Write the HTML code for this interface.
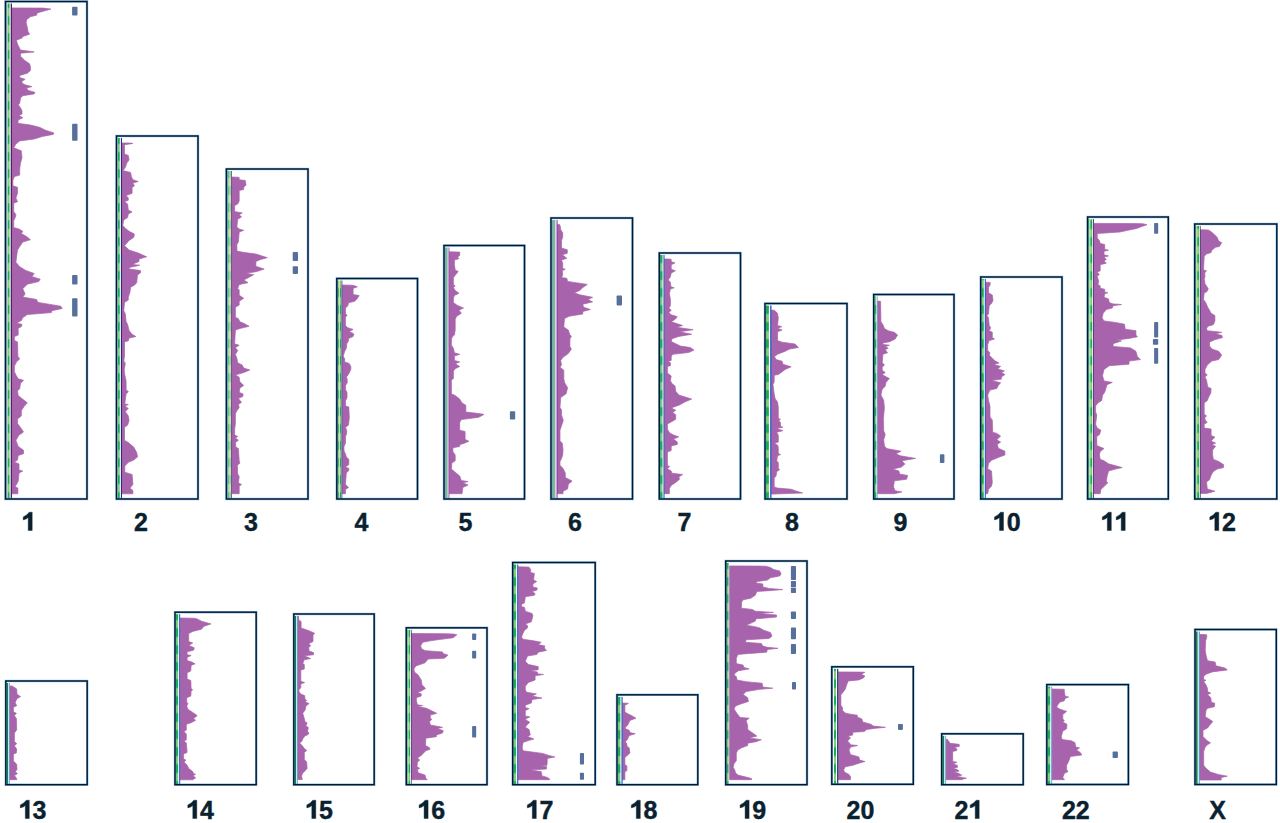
<!DOCTYPE html>
<html><head><meta charset="utf-8"><title>Chromosome histogram</title>
<style>
html,body{margin:0;padding:0;background:#fff;}
body{width:1280px;height:823px;overflow:hidden;font-family:"Liberation Sans",sans-serif;}
svg{display:block}
.lb{font-family:"Liberation Sans",sans-serif;font-weight:bold;font-size:25px;fill:#0a2230;stroke:#0a2230;stroke-width:0.4px;text-anchor:start}
</style></head>
<body>
<svg width="1280" height="823" viewBox="0 0 1280 823">
<defs><linearGradient id="gg" gradientUnits="userSpaceOnUse" x1="0" y1="0" x2="0" y2="17" spreadMethod="repeat"><stop offset="0" stop-color="#16ae54"/><stop offset="0.42" stop-color="#16ae54"/><stop offset="0.52" stop-color="#84ce72"/><stop offset="0.9" stop-color="#84ce72"/><stop offset="1" stop-color="#16ae54"/></linearGradient></defs>
<rect width="1280" height="823" fill="#ffffff"/>
<g id="c1">
<path d="M12 7.9L12 7.9L43.1 8.1L50.9 9.1L45.6 10.6L37.2 12.9L36.5 15.2L30.4 16.7L26.6 19.7L26.1 22.8L27.3 27.3L28.1 31.9L29.6 34.2L22.8 36.5L22 38L16.4 40.2L17.5 44L19 47.1L20.5 50.1L34.2 51.9L20.5 53.2L20.5 56.2L22.8 58.5L25.1 60.8L29.6 63.8L30.4 66.8L30.4 70.6L27.3 73.2L19.7 75.5L19.7 77.5L25.1 79.3L22 81.3L22 83.2L25.8 85.1L31.9 86.6L26.6 88.1L28.1 90.4L34.9 92.3L34.2 93.9L22.8 95.7L20.5 98L19.7 103.3L18.2 104.8L20.5 107.8L22 110.9L22 113.9L19 115.4L22.8 117.7L18.2 120L17.9 123.3L30.4 125L39.5 127.3L45.6 130.3L53.9 132.9L53.2 134.4L42.5 136.4L34.2 139L19.7 140.9L15.9 144L13.7 147.8L21.3 150.8L22 157.7L20.5 163L19.7 169L19.7 175.1L14.4 176.6L12.9 180.4L12.9 185.8L17.5 187.3L17.5 193.3L15.9 197.9L17.5 201.7L13.7 203.2L13.7 211.6L15.9 214.6L15.2 217.6L13.7 220.7L13.7 227.5L19 229L22.8 231.3L21.3 233.6L26.6 236.6L30.4 239.7L22.8 242L19.7 246.5L17.5 250L16.7 256.1L15.9 262.2L19.7 266.7L25.8 270.5L34.2 273.5L31.9 276.6L40.2 279.2L38.7 281.6L27.3 284.2L22.8 288.7L25.1 294L22.8 297.1L36.5 299.4L38 302.4L47.1 303.9L60.8 306.2L62.3 308.5L51.6 310.8L51.6 312.6L27.3 314.6L22.8 317.6L21.3 320.6L16.7 322.9L22 324.4L21.3 326.7L18.2 328.2L18.2 335.1L14.4 336.6L14.4 340.4L17.5 341.9L17.9 356.3L19.7 359.1L16.7 361.6L14.4 366.2L14.4 371.5L15.9 375L18.2 378.8L23.5 380.3L20.5 383.4L19.7 388.7L17.5 390.9L18.2 395.5L22.8 399.3L27.3 402.8L24.3 406.1L21.3 410.7L21.3 416L17.5 419L17.5 423.6L20.5 427.4L23.5 432L19 435L15.9 440.3L18.2 446.4L23.5 450.2L23.5 453.7L18.2 455.5L17.5 460.1L14.4 461.9L19 463.9L19 469.9L22.8 471.1L19 473L18.2 481.3L15.2 486.6L17.9 488.2L17.9 493.8L12 493.8Z" fill="#a763ab" stroke="#a763ab" stroke-width="0.7" stroke-linejoin="round"/>
<rect x="6.2" y="3.5" width="1.6" height="495.1" fill="#b5d8bd"/>
<rect x="7.8" y="3.5" width="1.9" height="495.1" fill="url(#gg)"/>
<rect x="9.7" y="3.5" width="1.2" height="495.1" fill="#dcebdc"/>
<rect x="10.8" y="3.5" width="1.2" height="495.1" fill="#5a1a6e"/>
<rect x="72.1" y="6.8" width="5.4" height="8.8" rx="0.8" fill="#566f9b"/>
<rect x="72.1" y="123.8" width="5.4" height="17" rx="0.8" fill="#566f9b"/>
<rect x="72.1" y="275.1" width="5.4" height="9.5" rx="0.8" fill="#566f9b"/>
<rect x="72.1" y="298.3" width="5.4" height="18.2" rx="0.8" fill="#566f9b"/>
<rect x="5.5" y="1.5" width="81.5" height="497.5" fill="none" stroke="#3d8fd8" stroke-opacity="0.65" stroke-width="2.4"/>
<rect x="5.5" y="1.5" width="81.5" height="497.5" fill="none" stroke="#04192a" stroke-width="1.4"/>
<path class="lb" d="M32.2 530.5h-4v-12.9q-1.7 1.7-5 2.3v-3q3.9-1.6 6-4.7h3z"/>
</g>
<g id="c2">
<path d="M122 142.9L122.3 142.9L130.7 143.1L132.9 143.5L124.5 144.7L124.5 153.9L128.3 155.4L129.1 159.9L126.8 163L125.3 167.5L123 170.6L130.6 172.4L131.4 176.6L132.9 179.7L138.2 181.5L132.9 183L134.4 185.8L132.1 187.6L132.1 193.3L126.1 195.6L128.3 197.9L128.3 200.2L124.5 201.7L127.6 204L128.3 210.1L132.1 211.9L128.3 213.9L127.6 217.6L123.8 219.9L122.7 225.2L125.3 228.3L129.1 231.3L134.4 234.1L133.7 237.4L129.1 240.4L124.5 245.7L129.1 250L138.2 253L146.6 256.8L139 259.1L139 261.4L132.1 264.4L139.7 265.2L129.1 267.5L129.1 269L140.5 270.5L140.5 272.8L137.5 275.1L136.7 282.7L134.4 285.2L130.6 287.2L129.9 292.5L128.3 297.1L128.3 300.1L124.5 302.4L123.8 310.8L125.3 313.8L126.1 321.4L127.6 324.4L129.1 330.5L132.1 334.3L135.9 336.6L129.1 338.1L128.3 340.8L124.5 341.9L124.5 356.3L123.8 360.9L125.3 363.2L124.2 370L124.8 375L126.1 381.1L126.1 389.4L128.3 391.7L126.1 394L124.8 403.9L128.3 404.6L124.8 406.1L128.3 408.4L125.3 411.5L128.3 416L129.1 420.6L127.6 425.1L124.5 427.4L124.5 440.3L128.3 442.6L133.7 447.1L136.7 452.5L137.5 457L133.7 460.1L128.3 462.3L124.8 466.1L124.8 472.2L132.1 474.5L132.9 484.4L129.9 488.2L132.9 490.4L132.9 493.8L122 493.8Z" fill="#a763ab" stroke="#a763ab" stroke-width="0.7" stroke-linejoin="round"/>
<rect x="117.2" y="138" width="0.8" height="360.6" fill="#e4f2f8"/>
<rect x="118" y="138" width="1.8" height="360.6" fill="url(#gg)"/>
<rect x="120.9" y="138" width="1.1" height="360.6" fill="#2a2a80"/>
<rect x="116.5" y="136" width="81.5" height="363" fill="none" stroke="#3d8fd8" stroke-opacity="0.65" stroke-width="2.4"/>
<rect x="116.5" y="136" width="81.5" height="363" fill="none" stroke="#04192a" stroke-width="1.4"/>
<text class="lb" x="134.1" y="530.5">2</text>
</g>
<g id="c3">
<path d="M232 177L232.7 177L237.8 177.2L239.2 177.5L239.2 179.7L245.3 180.5L246 185.1L243.7 187.3L243.7 189.6L239.2 190.4L239.2 201L237.7 204L234.6 205.6L234.6 211.6L242.2 212.9L239.2 214.7L241.5 217L237.7 219.2L236.9 226.8L239.2 229.1L243.7 230.3L239.2 232.1L238.4 242L236.9 244.3L236.9 251.1L243 252.3L256.7 254.2L262 256L267.3 257.7L260.5 259.5L255.9 261.5L255.9 266.3L264.2 269.1L256.7 271.6L246 273.2L253.6 274.7L248.3 277.7L243.7 280L248 282.7L239.2 284.6L237.7 288.4L239.2 289.9L239.2 295.2L243.7 298.2L239.2 301.3L239.2 305.1L235.4 307.3L235.4 317.2L238.4 318.7L239.9 321.8L243.7 323.3L249.1 326.3L240.7 328.3L235.4 330.1L234.6 343.8L239.2 345.3L235.4 347.6L237.7 350.6L235.4 354.4L236.9 358.2L237.7 362.8L242.2 365.1L243.7 368.1L249.8 369.9L244.5 372.3L235.4 374.9L239.2 377.2L239.2 378L239.9 381.8L243.7 385.6L239.9 387.9L239.2 392.4L243 393.9L243 396.2L238.4 398.5L241.5 402.3L238.4 404.6L239.2 407.6L236.9 410.7L235.4 413.7L235.4 423.6L234.6 429.6L234.6 435L237.7 436.5L235.4 438L238.4 440.3L235.4 442.6L235.8 447.1L238.4 448.6L239.2 460.8L239.9 463.1L237.4 465.3L237.7 473.7L239.2 476.7L238.4 482.8L241.5 484.6L239.2 486.1L239.2 493.7L232 493.7Z" fill="#a763ab" stroke="#a763ab" stroke-width="0.7" stroke-linejoin="round"/>
<rect x="227.1" y="171" width="0.7" height="327.6" fill="#7cc8e8"/>
<rect x="227.8" y="171" width="1" height="327.6" fill="url(#gg)"/>
<rect x="228.8" y="171" width="0.7" height="327.6" fill="#c8e8b0"/>
<rect x="229.6" y="171" width="0.9" height="327.6" fill="url(#gg)"/>
<rect x="231.3" y="171" width="0.7" height="327.6" fill="#5a1a6e"/>
<rect x="292.7" y="251.9" width="5.3" height="9.1" rx="0.8" fill="#566f9b"/>
<rect x="292.7" y="266.3" width="5.3" height="7.6" rx="0.8" fill="#566f9b"/>
<rect x="226.4" y="169" width="81.6" height="330" fill="none" stroke="#3d8fd8" stroke-opacity="0.65" stroke-width="2.4"/>
<rect x="226.4" y="169" width="81.6" height="330" fill="none" stroke="#04192a" stroke-width="1.4"/>
<text class="lb" x="244.1" y="530.5">3</text>
</g>
<g id="c4">
<path d="M342.3 285L342.5 285L350.9 285.2L353.1 285.3L357.4 286.8L353.1 288.4L353.1 294.4L359.2 295.6L356.9 299L354.6 301.3L348.5 302.8L347.8 305.8L345.5 308.1L345.5 313.4L347 315.2L345.5 317.2L345.5 325.6L347.8 327.8L353.1 329.4L349.3 331.6L353.9 333.9L353.1 336.5L348.5 338.5L348.5 340.8L346.7 343.8L346.3 348.3L344.7 351.4L343.2 355.9L344.7 359L344.7 362L349.3 363.5L350.8 366.6L350.8 369.6L348.5 374.2L346.3 377.2L347 378L347.3 382.6L345.5 385.6L345.5 389.4L347 392.4L347 397.7L345.5 400.8L345.5 406.1L348.8 406.9L349.3 417.5L348.5 425.1L345.5 427.4L346.7 430.4L346.7 433.4L345.5 436.5L345.5 443.3L344 446.3L344 450.9L345.5 453.9L346.3 457L348.8 459.3L348.8 464.6L345.5 466.9L348.8 468.4L348.8 470.6L346.3 472.9L345.5 484.3L346.7 485.8L348.5 487.4L345.5 489.6L345.5 493.7L342.3 493.7Z" fill="#a763ab" stroke="#a763ab" stroke-width="0.7" stroke-linejoin="round"/>
<rect x="337.5" y="280.5" width="0.6" height="218.1" fill="#30a8e0"/>
<rect x="338.1" y="280.5" width="0.9" height="218.1" fill="url(#gg)"/>
<rect x="338.9" y="280.5" width="1" height="218.1" fill="#c8e8b0"/>
<rect x="339.9" y="280.5" width="1.1" height="218.1" fill="url(#gg)"/>
<rect x="341.5" y="280.5" width="0.8" height="218.1" fill="#2a2a80"/>
<rect x="336.8" y="278.5" width="80.7" height="220.5" fill="none" stroke="#3d8fd8" stroke-opacity="0.65" stroke-width="2.4"/>
<rect x="336.8" y="278.5" width="80.7" height="220.5" fill="none" stroke="#04192a" stroke-width="1.4"/>
<text class="lb" x="354.6" y="530.5">4</text>
</g>
<g id="c5">
<path d="M449.3 251.8L449.4 251.8L457.7 252L459.7 252.1L459.7 255.6L457.5 257.1L459 258.6L454.4 260.1L454.4 264.7L455.2 270L458.2 271.5L455.2 275.3L453.4 277.6L453.4 284.4L455.2 285.9L453.4 287.5L455.2 290.5L459 293.2L454.4 295.4L453.4 298.1L453.4 302.6L456.7 304.9L459.7 306.4L463.5 308L459 310.2L461.3 313.3L456.7 316.3L455.2 319.4L455.2 330L454.4 335L452.9 336.1L451.4 339.1L451.4 345.2L453.4 348.2L454.4 352.8L459.7 354.3L454.4 356.1L454.4 360.4L459.7 361.9L455.2 363.7L459.7 366.5L455.2 368.7L453.4 371L453.4 378.6L451.4 380.1L451.4 393.8L455.2 395.6L459.7 399.1L462 402.9L465.8 405.2L465.8 412L478.7 413.5L484 414.4L478.7 417.3L461.3 419.6L459.7 422.6L459.7 430.2L465.1 431.5L465.1 439.4L468.9 441.2L464.3 443.2L459.7 444.7L459.7 446.6L452.9 447.7L452.9 451.5L455.2 455L455.2 455.5L455.2 460.8L451.8 463.1L451.4 469.1L455.2 472.2L459.7 476L461.3 480.5L468.1 481.6L462.8 482.8L468.1 485.1L462.8 487.4L462 493.7L449.3 493.7Z" fill="#a763ab" stroke="#a763ab" stroke-width="0.7" stroke-linejoin="round"/>
<rect x="444.7" y="247.5" width="3.1" height="251.1" fill="#80b2a4"/>
<rect x="447.8" y="247.5" width="0.7" height="251.1" fill="#f4f8f4"/>
<rect x="448.6" y="247.5" width="0.7" height="251.1" fill="#7a1a8c"/>
<rect x="509.9" y="411.3" width="5.3" height="8.3" rx="0.8" fill="#566f9b"/>
<rect x="444" y="245.5" width="80.5" height="253.5" fill="none" stroke="#3d8fd8" stroke-opacity="0.65" stroke-width="2.4"/>
<rect x="444" y="245.5" width="80.5" height="253.5" fill="none" stroke="#04192a" stroke-width="1.4"/>
<text class="lb" x="458.6" y="530.5">5</text>
</g>
<g id="c6">
<path d="M557.5 224.4L557.7 224.4L559.5 224.6L560 225.2L560.7 229.7L562.7 232.8L562.7 237.3L561.5 240.4L561.5 248L567.3 249.8L567.3 253.3L562.3 254.8L566.8 258.3L561.5 260.1L562.7 263.2L562.7 268.5L565.3 269.2L562.3 270.8L562.7 275.3L561.5 277.6L566.8 278.3L567.6 281.4L587.3 284.4L582.8 287.5L579.7 290.5L574.4 292.8L579.7 294.8L592.6 297.3L588.1 299.6L592.6 301.9L582.8 304.2L583.5 307.2L590.4 309.5L582.8 311.5L582.8 314L569.1 316.3L564.5 318.6L563.8 327L568.3 330L569.9 335L571.4 336.1L569.9 339.1L569.9 346.7L571.4 349L568.3 353.5L563 357.3L560.7 360.4L561.5 364.9L560 367.2L563.8 370.2L563.8 378.6L564.5 382.4L567.6 387.7L566.1 393.8L560.7 397.6L560 407.5L561.5 409.7L561.5 415.1L563.3 420.4L561.5 425.7L560 430.2L560 440.9L562.3 443.2L563 450L562.7 455L561.5 458.5L560 461.5L560 465.3L563 468.4L565.3 472.9L565.3 477.5L572.1 481L568.3 484.3L567.6 488.9L563 491.2L563 493.7L557.5 493.7Z" fill="#a763ab" stroke="#a763ab" stroke-width="0.7" stroke-linejoin="round"/>
<rect x="551.7" y="220" width="3.9" height="278.6" fill="#80b2a4"/>
<rect x="555.6" y="220" width="0.9" height="278.6" fill="#f4f8f4"/>
<rect x="556.6" y="220" width="0.9" height="278.6" fill="#7a1a8c"/>
<rect x="616.6" y="295.5" width="5.4" height="9.9" rx="0.8" fill="#566f9b"/>
<rect x="551" y="218" width="81.5" height="281" fill="none" stroke="#3d8fd8" stroke-opacity="0.65" stroke-width="2.4"/>
<rect x="551" y="218" width="81.5" height="281" fill="none" stroke="#04192a" stroke-width="1.4"/>
<text class="lb" x="567.9" y="530.5">6</text>
</g>
<g id="c7">
<path d="M664.5 258.9L664.7 258.9L669.9 259.1L671.2 259.4L671.2 261.7L675 262.9L671.2 264.7L671.2 269.3L675.4 270.8L671.2 273.1L670.4 276.9L668.2 279.9L670.4 282.2L670.9 286.7L674.2 287.8L670.4 289L669.4 293.6L670.4 299.6L670.4 305.7L668.9 308L671.2 310.3L668.9 312.6L671.2 314.8L677.3 316.7L675 319.4L671.2 321.7L675.7 323.2L682.6 325.5L676.5 327.3L693.2 329.7L679.5 331.8L691.7 334.3L678.8 336.4L671.9 338.8L671.2 341.4L675.7 343.7L680.3 346L690.2 347.5L694 350.1L688.7 352.5L672.7 354.3L671.2 356.6L671.2 360.4L668.2 361.2L670.4 362.7L670.4 365.7L667.4 366.5L667.4 373L671.2 376L670.4 380.6L671.9 383.6L675 385.9L675.7 391.2L678.8 395L691.7 399.1L684.9 401.9L679.5 404.9L671.2 407.9L675.7 410.2L672.7 412.5L675.7 414.8L675.7 419.3L671.2 421.9L667.4 423.9L667.4 429.2L669.7 433L674.2 435.3L678.8 436.8L673.5 439.1L677.3 442.1L677.3 444.4L671.2 445.9L671.2 450.5L667.4 452L667.4 465.6L669.7 466.4L667.4 468.7L671.2 471L671.9 473.2L682.6 474.5L678.8 477L679.5 479.3L675.7 482.4L671.2 485.4L669.4 488.4L669.4 493.7L664.5 493.7Z" fill="#a763ab" stroke="#a763ab" stroke-width="0.7" stroke-linejoin="round"/>
<rect x="660" y="255" width="2.5" height="243.6" fill="url(#gg)"/>
<rect x="663.5" y="255" width="1" height="243.6" fill="#1c50c0"/>
<rect x="659.3" y="253" width="81.2" height="246" fill="none" stroke="#3d8fd8" stroke-opacity="0.65" stroke-width="2.4"/>
<rect x="659.3" y="253" width="81.2" height="246" fill="none" stroke="#04192a" stroke-width="1.4"/>
<text class="lb" x="677.5" y="530.5">7</text>
</g>
<g id="c8">
<path d="M771.5 310L771.7 310L773.9 310.2L774.5 310.3L777.5 313.3L778.3 317.9L777.5 325.5L781.8 326.7L777.5 328.2L782.1 330L777.5 331.8L777.5 340.6L782.1 342.2L795 344L798.5 347.5L789.7 349L785.1 351.3L777.5 354.3L774.5 356.6L776 359.6L782.1 361.2L782.8 364.2L791.2 366.8L785.1 369.5L780.5 373L778.3 374.5L774.2 375.3L774.2 382.1L773 384.4L774.2 394.3L775.2 398.8L777.5 401.9L778.3 407.2L778.3 418.6L780.5 419.3L778.7 420.8L780.5 422.4L780.5 426.2L782.8 427.2L776.7 428.4L782.8 430.7L776.7 432.2L778.3 435.3L778.3 442.1L774.5 443.2L777.5 445.1L778.3 447.4L778.3 453.5L780.5 454.6L777.5 455.8L776.7 461.1L778.3 462.6L778.3 468.7L779.8 469.4L776.7 471.7L776 476.3L774.2 477.8L774.2 486.9L777.5 488.1L791.2 489.2L795 490.7L802.6 493L773 494.1L771.5 494.1Z" fill="#a763ab" stroke="#a763ab" stroke-width="0.7" stroke-linejoin="round"/>
<rect x="765.7" y="305.5" width="3.2" height="193.1" fill="url(#gg)"/>
<rect x="770.2" y="305.5" width="1.3" height="193.1" fill="#1c50c0"/>
<rect x="765" y="303.5" width="82" height="195.5" fill="none" stroke="#3d8fd8" stroke-opacity="0.65" stroke-width="2.4"/>
<rect x="765" y="303.5" width="82" height="195.5" fill="none" stroke="#04192a" stroke-width="1.4"/>
<text class="lb" x="785" y="530.5">8</text>
</g>
<g id="c9">
<path d="M877.8 301.1L877.9 301.1L880.1 301.3L880.6 301.4L880.9 321.6L882.9 324.7L884.4 328.5L888.2 330.8L894.3 332.3L897.6 335L895.1 339.1L889.7 341.7L882.9 342.9L882.9 344.4L889.4 345.2L885.2 346.7L888.2 348.2L885.2 349.7L887.5 352.8L882.9 354.3L882.2 362.6L884.4 364.9L882.2 367.2L882.2 370.2L885.2 372.5L882.2 374.8L885.2 376.3L889.4 378.6L885.9 382.4L885.2 386.2L882.2 389.2L880.9 395L883.7 400.3L884.4 407.9L883.4 418.6L883.7 430.7L885.2 434.5L883.7 439.8L884.4 445.9L886.7 448.6L901.1 451.2L895.8 453.8L900.4 455.8L915.6 458.4L901.9 460.8L904.9 464.1L901.1 467.2L892.8 469L898.9 471L899.6 474L907.7 475.5L906.5 479.3L894.3 480.8L893.5 486.9L895.1 490.7L901.9 491.9L894.3 493.7L877.8 493.7Z" fill="#a763ab" stroke="#a763ab" stroke-width="0.7" stroke-linejoin="round"/>
<rect x="874.4" y="296.5" width="2" height="202.1" fill="url(#gg)"/>
<rect x="877.3" y="296.5" width="0.5" height="202.1" fill="#3a8ad8"/>
<rect x="939.9" y="454.3" width="4.5" height="8.8" rx="0.8" fill="#566f9b"/>
<rect x="873.7" y="294.5" width="80.3" height="204.5" fill="none" stroke="#3d8fd8" stroke-opacity="0.65" stroke-width="2.4"/>
<rect x="873.7" y="294.5" width="80.3" height="204.5" fill="none" stroke="#04192a" stroke-width="1.4"/>
<text class="lb" x="893.5" y="530.5">9</text>
</g>
<g id="c10">
<path d="M985.8 282.2L985.9 282.2L989.4 282.4L990.3 282.6L990 285.2L988.5 287.5L988.5 292.8L992.3 295.1L993 300.4L991.5 303.4L989.2 305.7L988.5 314L987 315.6L988.5 317.8L989.2 325.4L990.7 327.7L989.2 330.8L992.3 332.3L992.3 337.6L994.5 339.1L989.2 340.6L987.7 344.4L987.7 350.5L990 352.8L989.2 355.1L993 358.9L995.3 361.1L999.1 363L993.8 364.5L1000.6 366.4L997.6 368.7L1004.4 371L1001.4 372.5L1004.9 374.5L1001.4 377.1L1001.4 379.1L991.5 380.6L1000.6 382.7L998.3 385.4L996.8 388.5L990 390L987.7 395L988.5 400.3L990 406.4L990 417L992.3 420.1L992.7 432.2L996.8 433.4L1000.6 436L996.8 439.8L1000.6 442.1L997.3 444.4L998.3 448.2L1004.9 451.2L1004.9 455L998.8 457.3L991.5 460.3L988.5 463.4L987.7 468.7L991.5 471L992.3 482.4L991.5 486.2L988.5 489.2L987.7 493.7L985.8 493.7Z" fill="#a763ab" stroke="#a763ab" stroke-width="0.7" stroke-linejoin="round"/>
<rect x="981.4" y="279" width="2.4" height="219.6" fill="url(#gg)"/>
<rect x="984.8" y="279" width="1" height="219.6" fill="#1c50c0"/>
<rect x="980.7" y="277" width="81.3" height="222" fill="none" stroke="#3d8fd8" stroke-opacity="0.65" stroke-width="2.4"/>
<rect x="980.7" y="277" width="81.3" height="222" fill="none" stroke="#04192a" stroke-width="1.4"/>
<path class="lb" d="M1003.5 530.5h-4v-12.9q-1.7 1.7-5 2.3v-3q3.9-1.6 6-4.7h3z"/>
<text class="lb" x="1006.7" y="530.5">0</text>
</g>
<g id="c11">
<path d="M1094 223.4L1094.1 223.4L1133 223.6L1142.7 223.7L1147 224.7L1141.2 226.7L1136.6 228.5L1126.8 230.5L1119.9 232L1097.2 233.5L1097.2 238.1L1099.4 240.4L1100.2 243.4L1104.7 244.6L1104.7 249.2L1108.5 250.2L1104 251.3L1104 254.8L1108.5 255.9L1104 257.1L1106.3 259.4L1104 260.9L1106.3 263.2L1100.2 264.7L1100.2 270.8L1097.2 272.3L1099.4 274.6L1097.2 276.1L1098.7 281.4L1097.9 284.4L1100.2 285.9L1100.2 288.2L1104.7 289.3L1104.7 292L1107.8 292.8L1104.7 293.8L1104 297.3L1108.5 298.9L1109.3 302.6L1113.1 303.9L1121.5 304.5L1113.1 305.7L1112.3 308L1106.3 309.5L1103.2 313.3L1102 317.8L1104 320.9L1115.4 322.4L1124.5 324.2L1125.2 329.2L1135.9 330.7L1135.9 335L1137.4 336.8L1129 338.4L1116.9 339.9L1121.5 340.9L1113.1 343.7L1113.1 346.4L1130.6 347.9L1135.9 351.3L1137.4 356.6L1140.4 359.6L1129 361.1L1129 364.2L1109.3 365.7L1104 369.5L1102.5 375.6L1104 380.9L1112.3 382.4L1107 384.7L1104.7 392.3L1102.5 395.3L1101.7 400.6L1097.9 402.9L1095.6 405.9L1095.6 412L1096.8 415.1L1095.6 424.2L1097.2 428L1100.9 430.2L1099.4 434.8L1096.8 436.3L1096.8 445.4L1100.2 447L1104 448.5L1100.2 451.5L1099.4 455L1100.2 459.3L1104 460.8L1108.5 463.8L1122.2 467.6L1115.4 469.1L1108.5 471L1107 476.7L1106.3 481.3L1107.8 482.8L1104.7 485.8L1100.9 489.6L1100.2 493.7L1094 493.7Z" fill="#a763ab" stroke="#a763ab" stroke-width="0.7" stroke-linejoin="round"/>
<rect x="1088.3" y="219" width="0.9" height="279.6" fill="url(#gg)"/>
<rect x="1089.2" y="219" width="1.1" height="279.6" fill="#a8dc90"/>
<rect x="1090.3" y="219" width="2.1" height="279.6" fill="url(#gg)"/>
<rect x="1092.4" y="219" width="0.8" height="279.6" fill="#e8f0e8"/>
<rect x="1093.2" y="219" width="0.8" height="279.6" fill="#3a1a6e"/>
<rect x="1154.1" y="222.9" width="4.1" height="10.9" rx="0.8" fill="#566f9b"/>
<rect x="1154.1" y="322.1" width="4.1" height="15.5" rx="0.8" fill="#566f9b"/>
<rect x="1152.9" y="339.1" width="5.3" height="5.6" rx="0.8" fill="#566f9b"/>
<rect x="1154.1" y="347.9" width="4.1" height="15.8" rx="0.8" fill="#566f9b"/>
<rect x="1087.6" y="217" width="80.7" height="282" fill="none" stroke="#3d8fd8" stroke-opacity="0.65" stroke-width="2.4"/>
<rect x="1087.6" y="217" width="80.7" height="282" fill="none" stroke="#04192a" stroke-width="1.4"/>
<path class="lb" d="M1111.3 530.5h-4v-12.9q-1.7 1.7-5 2.3v-3q3.9-1.6 6-4.7h3z"/>
<path class="lb" d="M1125.2 530.5h-4v-12.9q-1.7 1.7-5 2.3v-3q3.9-1.6 6-4.7h3z"/>
</g>
<g id="c12">
<path d="M1200.6 229.7L1200.7 229.7L1207.8 229.9L1209.5 230.5L1213.3 233.5L1217.1 237.3L1218.7 241.1L1221.7 242.7L1219.4 246.5L1215.6 247.2L1211.8 250.2L1211.1 252.5L1206.5 254L1204.2 256.3L1203.5 270L1206.5 270.8L1204.7 273L1205 276.8L1204.2 279.1L1205 283.7L1206.5 285.9L1208.3 289L1206.5 292L1204.2 292.8L1203.5 299.6L1205.7 302.6L1207.7 307.2L1209.5 310.2L1211.1 313.3L1214.9 315.6L1214.9 320.9L1213.3 324.7L1208 326.2L1206.5 328.5L1207.3 330.7L1221.7 332.3L1215.6 333.8L1220.2 335L1221.7 335.3L1222.5 337.6L1214.1 339.9L1209.5 342.2L1209.5 345.9L1211.8 349L1218.7 351.3L1221.7 355.1L1218.7 359.6L1211.8 361.1L1207.3 364.9L1205 369.5L1205 373.3L1207.3 374.8L1205 377.1L1206.5 380.1L1207.7 387L1211.1 388.5L1210.8 393L1208.8 396.8L1207.3 400.6L1204.2 402.9L1204.2 414.3L1206.5 415.8L1204.7 418.1L1205.7 421.1L1207.3 422.3L1204.2 424.2L1204.2 428L1211.1 429L1211.1 435.6L1214.9 437.1L1211.1 440.9L1215.6 443.2L1211.8 444.7L1215.6 446.2L1212.6 450L1212.6 455L1213.3 459.3L1218.7 461.5L1223.5 464.6L1223.5 467.6L1217.1 469.1L1213.3 471.4L1211.1 475.2L1209.5 479.8L1206.5 482L1207.3 488.9L1214.9 491.2L1209.5 492.7L1206.5 493.4L1200.6 493.4Z" fill="#a763ab" stroke="#a763ab" stroke-width="0.7" stroke-linejoin="round"/>
<rect x="1195.4" y="226" width="0.8" height="272.6" fill="url(#gg)"/>
<rect x="1196.2" y="226" width="1" height="272.6" fill="#a8dc90"/>
<rect x="1197.2" y="226" width="1.9" height="272.6" fill="url(#gg)"/>
<rect x="1199.1" y="226" width="0.7" height="272.6" fill="#e8f0e8"/>
<rect x="1199.9" y="226" width="0.7" height="272.6" fill="#3a1a6e"/>
<rect x="1194.7" y="224" width="82.1" height="275" fill="none" stroke="#3d8fd8" stroke-opacity="0.65" stroke-width="2.4"/>
<rect x="1194.7" y="224" width="82.1" height="275" fill="none" stroke="#04192a" stroke-width="1.4"/>
<path class="lb" d="M1218.8 530.5h-4v-12.9q-1.7 1.7-5 2.3v-3q3.9-1.6 6-4.7h3z"/>
<text class="lb" x="1222" y="530.5">2</text>
</g>
<g id="c13">
<path d="M9.8 685.9L9.9 685.9L12.3 686.1L12.9 686.4L16.7 689L17 694.3L20.5 696.6L16.7 698.9L15.2 702.7L16.7 705.7L13.4 707.2L13.4 711.8L16.4 713.3L14.4 715.6L16.4 718.6L16.7 730L14.4 733L14.4 741.4L16.7 743.7L14.4 745.9L16.7 749L16.4 752.8L13.4 754.3L13.4 761.1L16.7 764.2L17 769.5L15.2 771.8L17.5 773.6L14.4 775.6L16.7 778.6L16.7 779.7L9.8 779.7Z" fill="#a763ab" stroke="#a763ab" stroke-width="0.7" stroke-linejoin="round"/>
<rect x="6.5" y="683" width="1.7" height="101.3" fill="#1a7a48"/>
<rect x="8.2" y="683" width="1" height="101.3" fill="#d0ecd0"/>
<rect x="9.1" y="683" width="0.7" height="101.3" fill="#3a9ae0"/>
<rect x="5.8" y="681" width="81.4" height="103.7" fill="none" stroke="#3d8fd8" stroke-opacity="0.65" stroke-width="2.4"/>
<rect x="5.8" y="681" width="81.4" height="103.7" fill="none" stroke="#04192a" stroke-width="1.4"/>
<path class="lb" d="M29.3 818.5h-4v-12.9q-1.7 1.7-5 2.3v-3q3.9-1.6 6-4.7h3z"/>
<text class="lb" x="32.5" y="818.5">3</text>
</g>
<g id="c14">
<path d="M180.2 618L180.3 618L193.4 618.2L196.7 618.7L201.5 621.2L211 623.9L203.9 626.3L201.5 629.2L192.7 631.4L188.7 633.5L188.7 641.5L192.7 643L188.7 645.4L194.3 647.8L193.5 650.2L187.1 651.8L187.1 654.7L191.1 655.5L187.1 657.4L187.1 660.6L191.1 661.7L195.1 663.8L191.1 665.4L190.8 670.9L187.1 672.8L187.1 678.9L190.8 680.5L191.1 688.5L192.7 689.7L191.1 691.3L190.8 696.1L186.7 697.7L186.7 702L187.9 703.6L186.7 706L187.9 709.2L192.7 712.4L197.2 715.6L193.5 718.7L195.6 720.3L191.1 722.7L186.3 724.3L186.3 729.9L184 731.5L186.3 733.9L186.3 735L186.3 739.7L184 741.3L186.3 742.9L187.1 752.4L183.5 754L183.5 758.8L186 760.1L184 762L187.1 765.2L188.7 768.4L192.7 771.6L193.5 773.5L195.6 774.4L193 775.5L195.6 777.9L192.7 779.8L180.2 779.8Z" fill="#a763ab" stroke="#a763ab" stroke-width="0.7" stroke-linejoin="round"/>
<rect x="175.7" y="614.2" width="2.5" height="170.1" fill="url(#gg)"/>
<rect x="179.2" y="614.2" width="1" height="170.1" fill="#1c50c0"/>
<rect x="175" y="612.2" width="81.2" height="172.5" fill="none" stroke="#3d8fd8" stroke-opacity="0.65" stroke-width="2.4"/>
<rect x="175" y="612.2" width="81.2" height="172.5" fill="none" stroke="#04192a" stroke-width="1.4"/>
<path class="lb" d="M196.8 818.5h-4v-12.9q-1.7 1.7-5 2.3v-3q3.9-1.6 6-4.7h3z"/>
<text class="lb" x="200" y="818.5">4</text>
</g>
<g id="c15">
<path d="M297.8 616L297.9 616L298.5 616.2L298.7 619.9L301.1 621.5L301.1 627.9L309.1 630.8L314.6 633.2L313 635.1L313 641.5L308.7 643.8L310.6 645.8L308.7 647.8L309.1 651L313.5 652.6L313.5 654.7L304.3 655.8L310.6 658.5L304.3 659.8L302.7 663.3L304.3 664.6L304.3 669L300.8 670.1L300.8 681.3L304.6 682.6L300.8 684L300.8 687.7L298.7 690.1L299.5 692.4L300.8 694L304.6 695.6L305.1 699.6L306.7 700.4L305.1 702L309.1 703.6L305.9 706L305.1 710L302.7 713.2L303.5 715.6L305.1 721.9L307.1 722.7L305.9 725.9L308.3 727.5L307.5 731.5L309.1 733.1L307.5 735L305.1 735.7L302.7 738.9L301.9 741.3L299.5 742.9L301.9 745.3L304.3 748.4L306.7 750.4L304.3 752.4L304.3 759.6L306.7 762L307.1 768.4L305.1 770.8L302.7 773.1L301.4 776.3L302.4 779.5L297.8 779.5Z" fill="#a763ab" stroke="#a763ab" stroke-width="0.7" stroke-linejoin="round"/>
<rect x="294.5" y="616" width="1.7" height="168.3" fill="#1a7a48"/>
<rect x="296.1" y="616" width="1" height="168.3" fill="#d0ecd0"/>
<rect x="297.1" y="616" width="0.7" height="168.3" fill="#3a9ae0"/>
<rect x="293.8" y="614" width="80.4" height="170.7" fill="none" stroke="#3d8fd8" stroke-opacity="0.65" stroke-width="2.4"/>
<rect x="293.8" y="614" width="80.4" height="170.7" fill="none" stroke="#04192a" stroke-width="1.4"/>
<path class="lb" d="M315.8 818.5h-4v-12.9q-1.7 1.7-5 2.3v-3q3.9-1.6 6-4.7h3z"/>
<text class="lb" x="319" y="818.5">5</text>
</g>
<g id="c16">
<path d="M411.6 633.5L411.7 633.5L444.8 633.7L453.1 634L456.9 634.7L453.1 637.8L441 639.3L430.3 640.8L422.7 642.3L420.5 646.1L422 649.2L425.8 650.7L442.5 651.9L443.2 653.7L447.8 654.9L446.3 656.8L444 658.3L428.1 659L425 662.8L415.9 665.9L413.9 668.9L414.4 672L418.2 675L421.2 680L422 684.7L425.5 688.5L421.2 691.1L417.4 692.3L421.2 693.9L421.2 696.1L416.4 697.7L416.4 700.7L417.4 704.8L422.7 705.6L417.4 706.5L426.5 708.3L431.1 710.6L436.7 713.3L430.3 715.1L430.3 718.2L431.9 719.4L429.6 721.2L430.3 725L442.5 727.3L437.2 728.8L443.2 730.6L442.5 733L436.4 734.9L436.4 736.7L425.8 738.2L425.5 745.5L429.6 747.8L430 749.3L425.8 750.8L421.2 755.4L417.4 758L419.7 759.9L417.4 762.2L417 766.8L419.7 768.3L417.4 769.8L418.2 772.8L425 775.1L425.8 778.2L427.3 779.7L411.6 779.7Z" fill="#a763ab" stroke="#a763ab" stroke-width="0.7" stroke-linejoin="round"/>
<rect x="407" y="629.8" width="0.7" height="154.5" fill="url(#gg)"/>
<rect x="407.7" y="629.8" width="0.9" height="154.5" fill="#a8dc90"/>
<rect x="408.6" y="629.8" width="1.7" height="154.5" fill="url(#gg)"/>
<rect x="410.3" y="629.8" width="0.6" height="154.5" fill="#e8f0e8"/>
<rect x="411" y="629.8" width="0.6" height="154.5" fill="#3a1a6e"/>
<rect x="472.1" y="633.5" width="4.1" height="6.6" rx="0.8" fill="#566f9b"/>
<rect x="472.1" y="650.7" width="4.1" height="7.9" rx="0.8" fill="#566f9b"/>
<rect x="472.1" y="726.1" width="4.1" height="11.5" rx="0.8" fill="#566f9b"/>
<rect x="406.3" y="627.8" width="80.7" height="156.9" fill="none" stroke="#3d8fd8" stroke-opacity="0.65" stroke-width="2.4"/>
<rect x="406.3" y="627.8" width="80.7" height="156.9" fill="none" stroke="#04192a" stroke-width="1.4"/>
<path class="lb" d="M428.1 818.5h-4v-12.9q-1.7 1.7-5 2.3v-3q3.9-1.6 6-4.7h3z"/>
<text class="lb" x="431.3" y="818.5">6</text>
</g>
<g id="c17">
<path d="M518.3 566.8L518.4 566.8L526.9 567L529.1 567.2L530.6 569.4L530.6 572.5L534.4 573.5L533.6 580.1L536.7 581.6L532.9 583.9L532.9 586.9L537.4 588.1L536.7 590.2L532.1 591.5L535.1 593.7L534.4 595.2L525.3 596.8L524.5 602.8L521.5 604.4L521.5 606.6L524.5 607.4L525.3 611.2L532.1 613.5L532.9 615.8L531.3 621.8L525.3 624.1L527.5 625.6L527.5 627.9L524.5 630.2L523 633.2L521.5 637L523 639.3L533.6 640.8L541.2 642.3L538.2 644.6L545 646.1L544.3 648L546.5 650.4L538.2 652.2L536.7 654.5L527.5 656L525.3 661.3L528.3 664.4L538.2 666.6L538.2 669.7L530.6 670.7L537.4 672L537.4 673.8L543.5 674.5L535.1 675.7L535.1 680L528.3 682.5L525.3 686.3L525.3 690.1L526.8 692.3L536.4 693.9L532.1 696.1L542 698.1L532.1 699.6L531.3 703L525.3 705.2L525.3 707.5L529.1 708.7L525.3 710.6L525.3 715.9L529.8 716.9L525.3 718.9L526.8 720.4L529.8 722.4L526.8 725L525.3 727.3L529.1 729.6L530.3 734.9L527.5 736.4L533.9 739.1L528.3 740.6L523 742.5L522.2 747.8L523 750.8L542.7 753.4L548.8 755.4L554.9 756.9L547.3 758.4L547 765.2L539.7 765.7L546.5 766.5L546.5 769L530.3 770.1L541.2 771.6L542 775.9L547.3 777.4L549.6 778.9L549.6 779.7L518.3 779.7Z" fill="#a763ab" stroke="#a763ab" stroke-width="0.7" stroke-linejoin="round"/>
<rect x="513.4" y="564.5" width="2.7" height="219.8" fill="url(#gg)"/>
<rect x="517.2" y="564.5" width="1.1" height="219.8" fill="#1c50c0"/>
<rect x="579.9" y="753.1" width="4.1" height="11.4" rx="0.8" fill="#566f9b"/>
<rect x="579.9" y="772.8" width="4.1" height="6.9" rx="0.8" fill="#566f9b"/>
<rect x="512.7" y="562.5" width="82.5" height="222.2" fill="none" stroke="#3d8fd8" stroke-opacity="0.65" stroke-width="2.4"/>
<rect x="512.7" y="562.5" width="82.5" height="222.2" fill="none" stroke="#04192a" stroke-width="1.4"/>
<path class="lb" d="M536.3 818.5h-4v-12.9q-1.7 1.7-5 2.3v-3q3.9-1.6 6-4.7h3z"/>
<text class="lb" x="539.5" y="818.5">7</text>
</g>
<g id="c18">
<path d="M622.6 703L622.7 703L627.3 703.2L628.4 703.4L624.9 705.2L624.9 712.1L626.9 713.3L632.2 715.9L636 718.2L629.9 720.4L627.7 725L625.4 727.3L625.4 728.8L629.2 730.3L629.9 732.6L635.3 733.7L629.2 735.6L627.4 739.4L625.4 741.7L626.9 744L626.9 746.3L629.2 747.8L629.9 753.1L626.9 755.8L624.9 757.6L624.9 764.5L626.9 766L626.9 770.6L624.9 772.1L624.9 779.7L622.6 779.7Z" fill="#a763ab" stroke="#a763ab" stroke-width="0.7" stroke-linejoin="round"/>
<rect x="617.7" y="696.8" width="2.7" height="87.5" fill="url(#gg)"/>
<rect x="621.5" y="696.8" width="1.1" height="87.5" fill="#1c50c0"/>
<rect x="617" y="694.8" width="80.8" height="89.9" fill="none" stroke="#3d8fd8" stroke-opacity="0.65" stroke-width="2.4"/>
<rect x="617" y="694.8" width="80.8" height="89.9" fill="none" stroke="#04192a" stroke-width="1.4"/>
<path class="lb" d="M640.3 818.5h-4v-12.9q-1.7 1.7-5 2.3v-3q3.9-1.6 6-4.7h3z"/>
<text class="lb" x="643.5" y="818.5">8</text>
</g>
<g id="c19">
<path d="M729.6 565.9L729.7 565.9L758.6 566.1L765.9 566.2L770.4 567.5L773.5 569.4L779.6 570.9L781.1 574L779.6 576L770.4 577.8L767.4 580.1L756.8 581.6L756 583.1L762.8 583.9L762.8 586.9L768.9 588.4L782.6 589.6L768.9 590.7L756.8 591.5L755.3 595.2L750.7 598.3L743.1 599.8L741.6 602.1L741.3 608.2L752.2 609.4L755.3 611.2L773.5 612.4L759.8 613.5L776.5 615L776.5 617L765.9 618L756 618.8L755.3 621.1L750.7 623.3L746.1 625.2L753.7 626.4L759.8 627.9L763.6 630.2L770.4 632.5L772 636.3L768.9 638.5L746.1 639.8L745.4 642.3L761.3 643.4L762.8 646.1L767.4 647.3L778 648.3L767.4 649.5L766.6 652.2L746.1 653.7L737.8 654.5L736.3 658.3L736.3 663.6L743.1 665.1L743.9 667.4L749.2 668.9L738.5 670.7L735.5 672.7L734 675L736.3 676.5L737 680L746.1 681.7L762.1 683.2L762.8 687L772.7 688.2L759.8 689.3L746.1 691.6L743.1 694.6L747.7 697.7L748.4 701.5L740.1 704.2L735.5 706L734 709L737 713.6L740.1 717.4L749.2 718.2L746.1 720.4L747.7 725.8L747.7 729.6L753 733.3L756.8 736.1L749.2 737.9L761.3 739.7L756 741.7L747.7 743.2L747.7 745.5L741.6 747.8L737.8 750.1L736.3 753.1L736.3 760.7L734 763.7L733.2 767.5L734.7 769.8L735.5 772.8L737.8 775.1L746.1 777.1L751.5 778.6L751.5 779.7L729.6 779.7Z" fill="#a763ab" stroke="#a763ab" stroke-width="0.7" stroke-linejoin="round"/>
<rect x="726.4" y="563" width="2.2" height="221.3" fill="url(#gg)"/>
<rect x="790.9" y="565.9" width="5.1" height="14.1" rx="0.8" fill="#566f9b"/>
<rect x="790.9" y="581" width="5.1" height="6.2" rx="0.8" fill="#566f9b"/>
<rect x="790.9" y="587.7" width="5.1" height="5.3" rx="0.8" fill="#566f9b"/>
<rect x="790.9" y="611.5" width="5.1" height="7.6" rx="0.8" fill="#566f9b"/>
<rect x="790.9" y="627.6" width="5.1" height="11.7" rx="0.8" fill="#566f9b"/>
<rect x="790.9" y="643.9" width="5.1" height="10.1" rx="0.8" fill="#566f9b"/>
<rect x="792" y="682" width="4" height="7.6" rx="0.8" fill="#566f9b"/>
<rect x="725.7" y="561" width="81.3" height="223.7" fill="none" stroke="#3d8fd8" stroke-opacity="0.65" stroke-width="2.4"/>
<rect x="725.7" y="561" width="81.3" height="223.7" fill="none" stroke="#04192a" stroke-width="1.4"/>
<path class="lb" d="M749.1 818.5h-4v-12.9q-1.7 1.7-5 2.3v-3q3.9-1.6 6-4.7h3z"/>
<text class="lb" x="752.3" y="818.5">9</text>
</g>
<g id="c20">
<path d="M838.3 671.9L838.4 671.9L859.6 672.1L864.9 672.3L861.1 674.2L864.9 676L863.4 677.9L858.9 679.9L848.2 681L846.7 684.8L845.2 689.3L842.9 692.4L840.9 694.7L840.9 705.3L842.5 707.6L842.5 710.6L845.2 712.9L849 713.9L857.3 715.2L857.3 717L861.9 719L862.7 722L871 724.3L873.3 726.1L885.4 727.3L874 728.4L866.5 729.6L864.2 731.6L852.8 732.2L852.8 734.9L848.2 736.1L850.5 737.9L847.5 741L849.7 743.3L850.5 744.8L857.6 745.5L850.5 747.1L849 750.1L850.5 754.6L858.9 756.9L859.6 760L864.9 761.5L859.6 763L852.8 765.3L845.2 766.8L843.7 769.8L844.4 772.1L849 774.4L850.5 776.7L850.5 779.7L838.3 779.7Z" fill="#a763ab" stroke="#a763ab" stroke-width="0.7" stroke-linejoin="round"/>
<rect x="834" y="668.8" width="2" height="115.1" fill="url(#gg)"/>
<rect x="837.1" y="668.8" width="1.2" height="115.1" fill="#1a3a6e"/>
<rect x="898" y="724" width="4.9" height="5.9" rx="0.8" fill="#566f9b"/>
<rect x="831.8" y="666.8" width="81.5" height="117.5" fill="none" stroke="#3d8fd8" stroke-opacity="0.65" stroke-width="2.4"/>
<rect x="831.8" y="666.8" width="81.5" height="117.5" fill="none" stroke="#04192a" stroke-width="1.4"/>
<text class="lb" x="846.6" y="818.5">2</text>
<text class="lb" x="860.5" y="818.5">0</text>
</g>
<g id="c21">
<path d="M946.1 739.2L946.2 739.2L947.4 739.4L947.7 739.8L950 743.3L959.1 744.3L959.4 746.3L954.5 747.4L956.8 748.9L956.8 750.4L952.7 751.6L952.7 761.5L956.8 762.2L953 764.1L957.3 765.3L957.3 767.6L953 768.3L957.6 769.8L959.1 771.1L953.8 772.1L958.3 773.2L961.8 775.2L956.1 776.2L966.4 778.2L962.1 779.3L962.1 779.7L946.1 779.7Z" fill="#a763ab" stroke="#a763ab" stroke-width="0.7" stroke-linejoin="round"/>
<rect x="942.4" y="735.8" width="1.8" height="48.5" fill="#1a7a48"/>
<rect x="944.2" y="735.8" width="1.1" height="48.5" fill="#d0ecd0"/>
<rect x="945.4" y="735.8" width="0.7" height="48.5" fill="#3a9ae0"/>
<rect x="941.7" y="733.8" width="81.5" height="50.9" fill="none" stroke="#3d8fd8" stroke-opacity="0.65" stroke-width="2.4"/>
<rect x="941.7" y="733.8" width="81.5" height="50.9" fill="none" stroke="#04192a" stroke-width="1.4"/>
<text class="lb" x="954.6" y="818.5">2</text>
<path class="lb" d="M979.2 818.5h-4v-12.9q-1.7 1.7-5 2.3v-3q3.9-1.6 6-4.7h3z"/>
</g>
<g id="c22">
<path d="M1052.1 689L1052.2 689L1061.9 689.2L1064.3 689.3L1064.3 691.6L1065.1 696.2L1068.6 696.9L1065.1 698.5L1064.3 700.7L1059.7 702.2L1057.5 705.3L1056.7 707.3L1059.7 709.1L1066.6 711.4L1062.8 714.4L1062.8 719L1064.3 720.5L1062.8 722L1067 724.3L1066.6 728.8L1062.8 731.1L1061.3 736.4L1062 739.5L1071.1 740.7L1074.9 742.5L1075.7 747.1L1079.5 747.8L1076.5 750.1L1080.2 752.4L1081.8 755L1070.4 756.5L1068.9 760.7L1066.6 765.3L1066.6 769.8L1068.1 771.4L1064.3 773.6L1062.8 777.4L1064.3 779.3L1064.3 779.7L1052.1 779.7Z" fill="#a763ab" stroke="#a763ab" stroke-width="0.7" stroke-linejoin="round"/>
<rect x="1047.5" y="686.6" width="2.8" height="97.5" fill="url(#gg)"/>
<rect x="1050.3" y="686.6" width="1.1" height="97.5" fill="#d8ecf8"/>
<rect x="1051.4" y="686.6" width="0.7" height="97.5" fill="#3a8ad8"/>
<rect x="1112.6" y="751.6" width="5.3" height="6.4" rx="0.8" fill="#566f9b"/>
<rect x="1046.8" y="684.6" width="81.6" height="99.9" fill="none" stroke="#3d8fd8" stroke-opacity="0.65" stroke-width="2.4"/>
<rect x="1046.8" y="684.6" width="81.6" height="99.9" fill="none" stroke="#04192a" stroke-width="1.4"/>
<text class="lb" x="1061.9" y="818.5">2</text>
<text class="lb" x="1075.8" y="818.5">2</text>
</g>
<g id="cX">
<path d="M1199.8 634.4L1199.9 634.4L1205.4 634.6L1206.7 634.7L1206.7 637.5L1205.7 640.5L1205.2 650.4L1206.3 656.5L1207.5 660.7L1215.1 662L1215.9 665.8L1225 668.1L1227.3 669.9L1212.1 671.9L1206 674.2L1203.7 676.4L1203.7 679.5L1206 680.2L1203.7 681.7L1206 684.8L1207.5 688.6L1207.5 691.6L1210.8 693.1L1207.5 694.7L1210.8 697.7L1211.3 702.2L1214.8 703.3L1214.3 706.8L1207.5 708.3L1206 710.6L1205.2 716.7L1209 719L1212.8 721.5L1209.8 725L1207.5 728.1L1203 730.3L1203 736.4L1205.2 738.7L1207.5 741L1210.5 742.8L1207.5 744.8L1205.2 747.1L1203.7 751.6L1203.7 765.3L1206 768.3L1210.5 772.1L1218.1 774.4L1227.3 776.2L1221.2 777.4L1221.2 780L1199.8 780Z" fill="#a763ab" stroke="#a763ab" stroke-width="0.7" stroke-linejoin="round"/>
<rect x="1195.7" y="631.5" width="2" height="152.6" fill="#1a7a48"/>
<rect x="1197.8" y="631.5" width="1.2" height="152.6" fill="#d0ecd0"/>
<rect x="1199" y="631.5" width="0.8" height="152.6" fill="#3a9ae0"/>
<rect x="1195" y="629.5" width="81.3" height="155" fill="none" stroke="#3d8fd8" stroke-opacity="0.65" stroke-width="2.4"/>
<rect x="1195" y="629.5" width="81.3" height="155" fill="none" stroke="#04192a" stroke-width="1.4"/>
<text class="lb" x="1209.2" y="818.5">X</text>
</g>
</svg>
</body></html>
